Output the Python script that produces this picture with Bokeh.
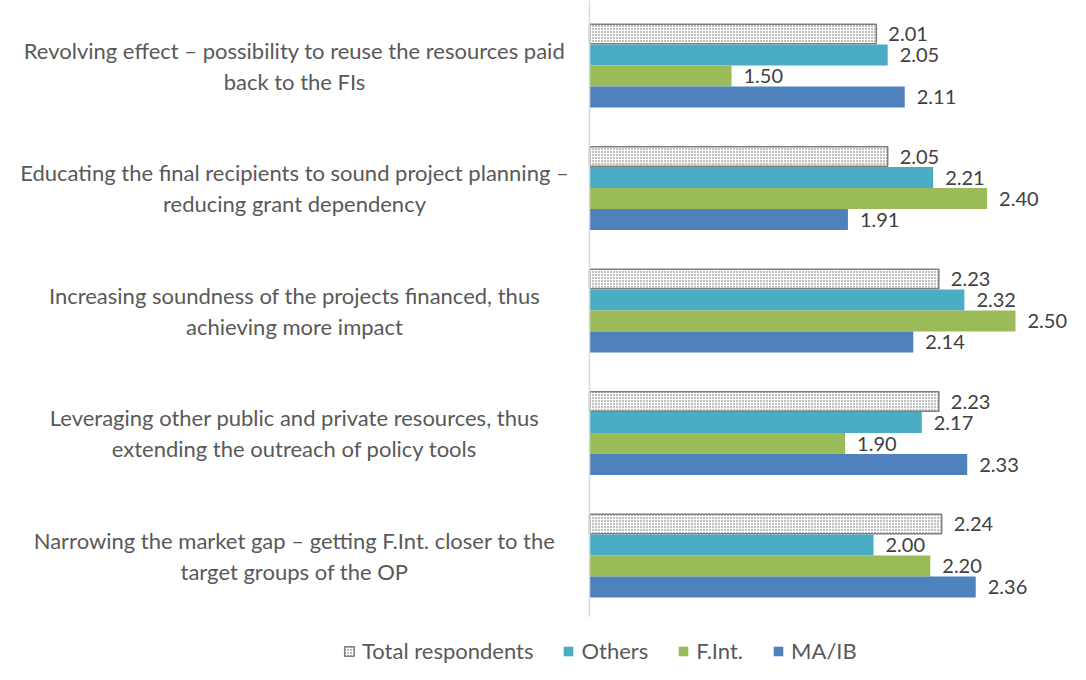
from bokeh.plotting import figure
from bokeh.models import Range1d, ColumnDataSource, LabelSet, Legend, LegendItem
from bokeh.core.properties import value
from bokeh.embed import file_html
from bokeh.resources import INLINE

categories = [
    ["Revolving effect \u2013 possibility to reuse the resources paid", "back to the FIs"],
    ["Educating the final recipients to sound project planning \u2013", "reducing grant dependency"],
    ["Increasing soundness of the projects financed, thus", "achieving more impact"],
    ["Leveraging other public and private resources, thus", "extending the outreach of policy tools"],
    ["Narrowing the market gap \u2013 getting F.Int. closer to the", "target groups of the OP"],
]
series_names = ["Total respondents", "Others", "F.Int.", "MA/IB"]
total_respondents = [2.01, 2.05, 2.23, 2.23, 2.24]
others = [2.05, 2.21, 2.32, 2.17, 2.00]
f_int = [1.50, 2.40, 2.50, 1.90, 2.20]
ma_ib = [2.11, 1.91, 2.14, 2.33, 2.36]
series_values = [total_respondents, others, f_int, ma_ib]

W, H = 1070, 664
px_x = 284.0
axis_px = 589.0
x0 = 1.0
x_start = x0 - axis_px / px_x
x_end = x0 + (W - axis_px) / px_x
px_y = 122.5
top_c = 65.0
y_top = -top_c / px_y
y_bot = (H - top_c) / px_y

p = figure(width=W, height=H, output_backend="svg", toolbar_location=None,
           x_range=Range1d(x_start, x_end), y_range=Range1d(y_bot, y_top),
           min_border=0)
p.axis.visible = False
p.grid.visible = False
p.outline_line_color = None
p.background_fill_color = "white"

FONT = "Lato"
bar_h = 21.0 / px_y
offsets = [-1.5 * bar_h, -0.5 * bar_h, 0.5 * bar_h, 1.5 * bar_h]
colors = ["white", "#4BACC6", "#9BBB59", "#4F81BD"]

renderers = []
for k, (name, vals) in enumerate(zip(series_names, series_values)):
    ys = [i + offsets[k] for i in range(len(vals))]
    src = ColumnDataSource(dict(y=ys, right=vals, left=[x0] * len(vals),
                                lab=["%.2f" % v for v in vals]))
    if k == 0:
        r = p.hbar(y="y", left="left", right="right", height=bar_h * 0.93, source=src,
                   fill_color="white", line_color="#7f7f7f", line_width=1.5,
                   hatch_pattern="dot", hatch_color="#5f5f5f", hatch_scale=3.0, hatch_weight=1.5)
    else:
        r = p.hbar(y="y", left="left", right="right", height=bar_h, source=src,
                   fill_color=colors[k], line_color=None)
    renderers.append(r)
    p.add_layout(LabelSet(x="right", y="y", text="lab", source=src, x_offset=12,
                          text_baseline="middle", text_align="left",
                          text_font=value(FONT), text_font_size="20px",
                          text_color="#404040"))

# axis line
p.segment(x0=[x0], y0=[y_top], x1=[x0], y1=[len(categories) - 0.5],
          line_color="#d9d9d9", line_width=1.5)

# category labels
lab_x = x0 - (axis_px - 294) / px_x
lx, ly, lt = [], [], []
for i, lines in enumerate(categories):
    for j, t in enumerate(lines):
        lx.append(lab_x)
        ly.append(i + (-15.5 if j == 0 else 15.5) / px_y)
        lt.append(t)
p.text(x=lx, y=ly, text=lt, text_align="center", text_baseline="middle",
       text_font=value(FONT), text_font_size="22px", text_color="#595959")

legend = Legend(items=[LegendItem(label=n, renderers=[r]) for n, r in zip(series_names, renderers)],
                orientation="horizontal", location=(343, 0),
                label_text_font=FONT, label_text_font_size="22px", label_text_color="#595959",
                glyph_width=12, glyph_height=12, label_standoff=7, spacing=29,
                padding=0, margin=0, border_line_color=None, background_fill_alpha=0)
p.add_layout(legend, "center")

open("out.html", "w").write(file_html(p, INLINE))
